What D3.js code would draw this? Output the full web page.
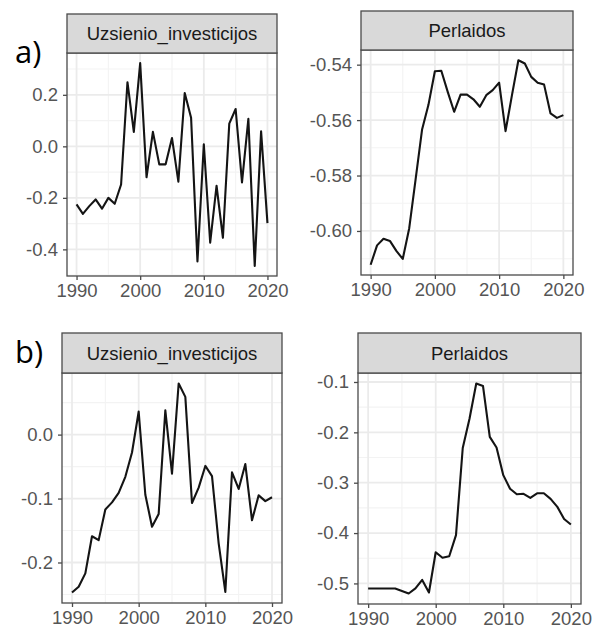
<!DOCTYPE html>
<html>
<head>
<meta charset="utf-8">
<script src="https://cdn.jsdelivr.net/npm/d3@7"></script>
<style>
  html, body { margin: 0; padding: 0; background: #fff; }
  svg { display: block; }
</style>
</head>
<body>
<svg id="chart" width="595" height="635"></svg>
<script>
// Years on the x axis
const years = [1990, 1991, 1992, 1993, 1994, 1995, 1996, 1997, 1998, 1999,
               2000, 2001, 2002, 2003, 2004, 2005, 2006, 2007, 2008, 2009,
               2010, 2011, 2012, 2013, 2014, 2015, 2016, 2017, 2018, 2019, 2020];

// a) Uzsienio_investicijos
const uzsienioA = [-0.225, -0.262, -0.232, -0.206, -0.242, -0.200, -0.223, -0.148, 0.249, 0.056,
                   0.323, -0.120, 0.056, -0.070, -0.070, 0.032, -0.137, 0.207, 0.111, -0.447,
                   0.008, -0.374, -0.153, -0.355, 0.088, 0.145, -0.140, 0.107, -0.464, 0.058, -0.298];
// a) Perlaidos
const perlaidosA = [-0.6122, -0.6052, -0.6028, -0.6036, -0.6072, -0.6101, -0.5991, -0.5814, -0.5635, -0.5545,
                    -0.5424, -0.5422, -0.5498, -0.5570, -0.5508, -0.5508, -0.5525, -0.5552, -0.5510, -0.5492,
                    -0.5465, -0.5640, -0.5510, -0.5384, -0.5396, -0.5444, -0.5465, -0.5472, -0.5576, -0.5592, -0.5582];
// b) Uzsienio_investicijos
const uzsienioB = [-0.247, -0.238, -0.217, -0.159, -0.165, -0.117, -0.106, -0.091, -0.066, -0.028,
                   0.036, -0.094, -0.144, -0.124, 0.038, -0.061, 0.080, 0.059, -0.107, -0.083,
                   -0.049, -0.065, -0.170, -0.246, -0.059, -0.085, -0.046, -0.134, -0.095, -0.104, -0.098];
// b) Perlaidos
const perlaidosB = [-0.510, -0.510, -0.510, -0.510, -0.510, -0.515, -0.520, -0.510, -0.493, -0.518,
                    -0.438, -0.449, -0.446, -0.404, -0.231, -0.173, -0.103, -0.108, -0.209, -0.230,
                    -0.285, -0.312, -0.323, -0.322, -0.330, -0.321, -0.321, -0.332, -0.348, -0.372, -0.383];

// Tick labels
const xTicks = [1990, 2000, 2010, 2020];
const yTicksUzsienioA = [-0.4, -0.2, 0.0, 0.2];
const yTicksPerlaidosA = [-0.60, -0.58, -0.56, -0.54];
const yTicksUzsienioB = [-0.2, -0.1, 0.0];
const yTicksPerlaidosB = [-0.5, -0.4, -0.3, -0.2, -0.1];

const panelTitles = ["Uzsienio_investicijos", "Perlaidos"];
const partLabels = ["a)", "b)"];

// Panel geometry (plot area and strip)
const panels = [
  { title: panelTitles[0], values: uzsienioA, yTicks: yTicksUzsienioA, fmt: ".1f",
    x0: 67, x1: 277, stripTop: 14, top: 53, bottom: 276 },
  { title: panelTitles[1], values: perlaidosA, yTicks: yTicksPerlaidosA, fmt: ".2f",
    x0: 361, x1: 573, stripTop: 11, top: 50, bottom: 275 },
  { title: panelTitles[0], values: uzsienioB, yTicks: yTicksUzsienioB, fmt: ".1f",
    x0: 62, x1: 282, stripTop: 333, top: 373, bottom: 603 },
  { title: panelTitles[1], values: perlaidosB, yTicks: yTicksPerlaidosB, fmt: ".1f",
    x0: 358, x1: 581, stripTop: 333, top: 373, bottom: 604 }
];

const svg = d3.select("#chart");
const locale = d3.formatLocale({ decimal: ".", thousands: ",", grouping: [3], currency: ["", ""], minus: "-" });

const FONT = "'Liberation Sans', Arial, sans-serif";
const gridMajor = "#EBEBEB";
const gridMinor = "#F3F3F3";

function expand(ext, mult) {
  const d = (ext[1] - ext[0]) * mult;
  return [ext[0] - d, ext[1] + d];
}

panels.forEach(p => {
  const g = svg.append("g");
  const xDom = expand(d3.extent(years), 0.05);
  const yDom = expand(d3.extent(p.values), 0.05);
  const x = d3.scaleLinear().domain(xDom).range([p.x0, p.x1]);
  const y = d3.scaleLinear().domain(yDom).range([p.bottom, p.top]);

  // minor breaks: midpoints between major breaks, one step beyond each end
  const minorOf = (ticks, dom) => {
    const step = ticks[1] - ticks[0];
    const out = [];
    for (let i = -1; i < ticks.length; i++) {
      const v = ticks[0] + step * (i + 0.5);
      if (v > dom[0] && v < dom[1]) out.push(v);
    }
    return out;
  };
  const xMinor = minorOf(xTicks, xDom);
  const yMinor = minorOf(p.yTicks, yDom);

  // minor grid
  g.selectAll(null).data(xMinor).join("line")
    .attr("x1", d => x(d)).attr("x2", d => x(d))
    .attr("y1", p.top).attr("y2", p.bottom)
    .attr("stroke", gridMinor).attr("stroke-width", 1.1);
  g.selectAll(null).data(yMinor).join("line")
    .attr("x1", p.x0).attr("x2", p.x1)
    .attr("y1", d => y(d)).attr("y2", d => y(d))
    .attr("stroke", gridMinor).attr("stroke-width", 1.1);
  // major grid
  g.selectAll(null).data(xTicks).join("line")
    .attr("x1", d => x(d)).attr("x2", d => x(d))
    .attr("y1", p.top).attr("y2", p.bottom)
    .attr("stroke", gridMajor).attr("stroke-width", 1.8);
  g.selectAll(null).data(p.yTicks).join("line")
    .attr("x1", p.x0).attr("x2", p.x1)
    .attr("y1", d => y(d)).attr("y2", d => y(d))
    .attr("stroke", gridMajor).attr("stroke-width", 1.8);

  // series line
  const line = d3.line().x((d, i) => x(years[i])).y(d => y(d));
  g.append("path").datum(p.values)
    .attr("d", line)
    .attr("fill", "none")
    .attr("stroke", "#141414")
    .attr("stroke-width", 2.1)
    .attr("stroke-linejoin", "round");

  // panel border
  g.append("rect")
    .attr("x", p.x0).attr("y", p.top)
    .attr("width", p.x1 - p.x0).attr("height", p.bottom - p.top)
    .attr("fill", "none").attr("stroke", "#4a4a4a").attr("stroke-width", 1.3);

  // strip
  g.append("rect")
    .attr("x", p.x0).attr("y", p.stripTop)
    .attr("width", p.x1 - p.x0).attr("height", p.top - p.stripTop)
    .attr("fill", "#D9D9D9").attr("stroke", "#4a4a4a").attr("stroke-width", 1.3);
  g.append("text")
    .attr("x", (p.x0 + p.x1) / 2).attr("y", (p.stripTop + p.top) / 2)
    .attr("dy", "0.36em")
    .attr("text-anchor", "middle")
    .attr("font-family", FONT).attr("font-size", 18.5)
    .attr("fill", "#1A1A1A")
    .text(p.title);

  // axes
  const xAxis = d3.axisBottom(x).tickValues(xTicks).tickSize(4).tickPadding(4)
    .tickFormat(d3.format("d"));
  const yAxis = d3.axisLeft(y).tickValues(p.yTicks).tickSize(4).tickPadding(5)
    .tickFormat(locale.format(p.fmt));
  [ [xAxis, `translate(0,${p.bottom})`], [yAxis, `translate(${p.x0},0)`] ].forEach(([ax, tr]) => {
    const a = g.append("g").attr("transform", tr).call(ax);
    a.select(".domain").remove();
    a.selectAll(".tick line").attr("stroke", "#4a4a4a").attr("stroke-width", 1.3);
    a.selectAll(".tick text")
      .attr("font-family", FONT).attr("font-size", 18.5)
      .attr("fill", "#555555");
  });
});

// part labels
const labelPos = [[15, 63], [15, 363]];
svg.selectAll(".part").data(partLabels).join("text")
  .attr("class", "part")
  .attr("x", (d, i) => labelPos[i][0]).attr("y", (d, i) => labelPos[i][1])
  .attr("font-family", "'Open Sans', sans-serif").attr("font-size", 31)
  .attr("fill", "#000")
  .text(d => d);
</script>
</body>
</html>
